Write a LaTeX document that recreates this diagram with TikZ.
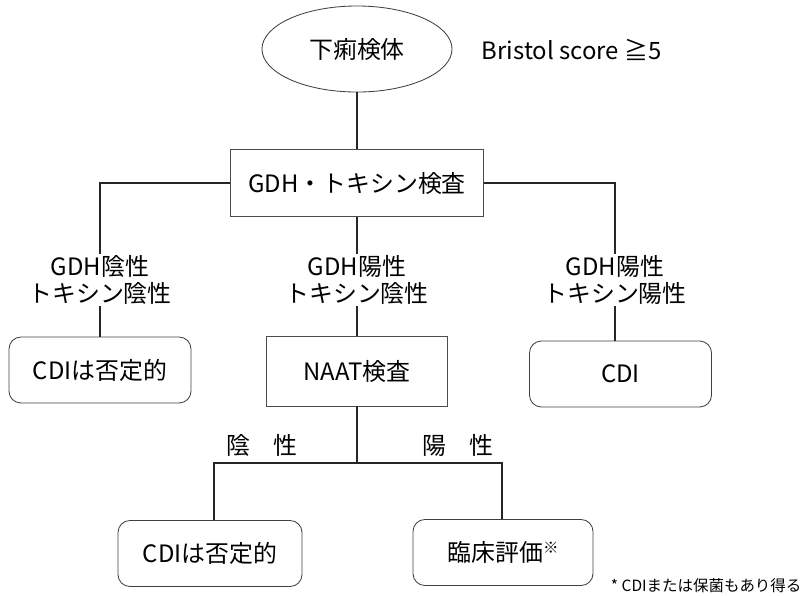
\documentclass[tikz,border=0pt]{standalone}
\usepackage{fontspec}
\usepackage{tikz}
\usetikzlibrary{shapes.geometric}
\newfontfamily\jpfont{Noto Sans CJK JP}

\begin{document}
\begin{tikzpicture}[x=0.025cm,y=-0.025cm,
					every node/.style = {font=\jpfont\fontsize{17}{19}\selectfont, align=center},
					conn/.style = {line width=1.6pt, black!85}]

\tikzstyle{test_box} = [rectangle, draw=black!70, line width=0.6pt, minimum width=4.53cm, minimum height=1.75cm]
\tikzstyle{result_box} = [rectangle, rounded corners=0.3cm, draw=black!75, line width=0.6pt, minimum width=4.55cm, minimum height=1.65cm]
\tikzstyle{branch_label} = [inner sep=1pt]

\useasboundingbox (0,0) rectangle (805,595);

% specimen and first test
\node[ellipse, draw=black!75, line width=0.6pt, minimum width=4.75cm, minimum height=2.15cm, inner sep=0pt] (sample) at (357,49) {下痢検体};
\node[anchor=west] (bristol) at (477,50) {Bristol score ≧5};
\node[test_box, minimum width=6.33cm, minimum height=1.68cm] (gdh) at (357,183) {GDH・トキシン検査};

% three outcomes
\node[branch_label] (lab_nn) at (100,280) {GDH陰性\\トキシン陰性};
\node[branch_label] (lab_pn) at (357,280) {GDH陽性\\トキシン陰性};
\node[branch_label] (lab_pp) at (615,280) {GDH陽性\\トキシン陽性};

\node[result_box] (neg_a) at (100,370) {CDIは否定的};
\node[test_box] (naat) at (357,371) {NAAT検査};
\node[result_box] (cdi) at (620.5,374) {CDI};

% NAAT outcomes
\coordinate (fork_l) at (214,463);
\coordinate (fork_r) at (502,463);
\node (neg_lab) at (262,445) {陰　性};
\node (pos_lab) at (458,445) {陽　性};

\node[result_box, minimum width=4.6cm] (neg_b) at (210,553.5) {CDIは否定的};
\node[result_box, minimum width=4.5cm] (clin) at (503,552.5) {臨床評価\raisebox{0.32em}{\fontsize{11}{11}\selectfont ※}};

\node[anchor=west, font=\jpfont\fontsize{11}{13}\selectfont] (note) at (606,586) {* CDIまたは保菌もあり得る};

\draw[conn] (sample) -- (gdh);
\draw[conn] (gdh.west) -| (lab_nn.north);
\draw[conn] (gdh.east) -| (lab_pp.north);
\draw[conn] (gdh.south) -- (lab_pn.north);
\draw[conn] (lab_nn.south) -- (neg_a.north);
\draw[conn] (lab_pn.south) -- (naat.north);
\draw[conn] (lab_pp.south) -- (lab_pp.south |- cdi.north);
\draw[conn] (naat.south) -- (naat.south |- fork_l);
\draw[conn] (fork_l |- neg_b.north) -- (fork_l) -- (fork_r) -- (fork_r |- clin.north);
\end{tikzpicture}
\end{document}
